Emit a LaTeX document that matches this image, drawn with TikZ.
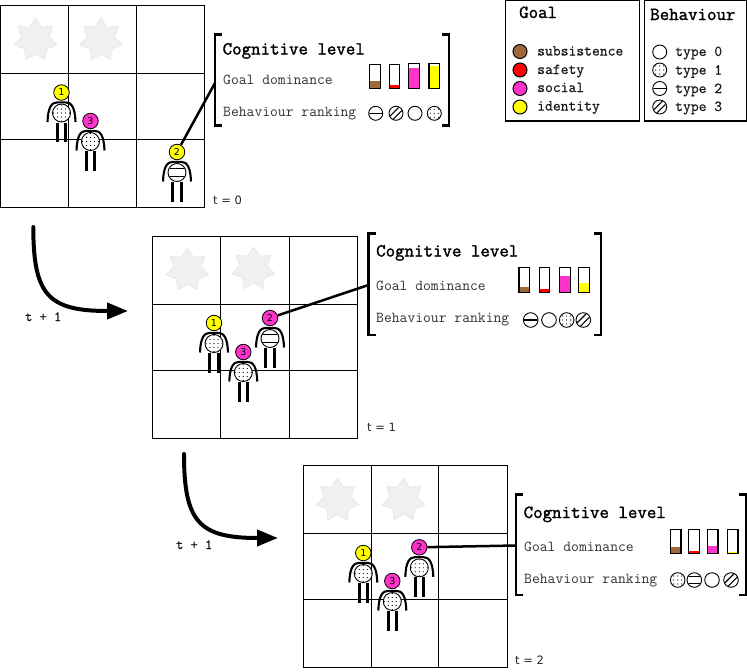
\documentclass[tikz,border=0pt]{standalone}
\usepackage{fontspec}
\setmainfont{DejaVu Sans}
\setmonofont{Latin Modern Mono}
\newfontfamily\monoheavy[FakeBold=1.6]{Latin Modern Mono}
\newfontfamily\monomedium[FakeBold=0.7]{Latin Modern Mono}
\usetikzlibrary{shapes.geometric,arrows.meta}
\definecolor{subsist}{HTML}{A0693A}
\definecolor{safe}{HTML}{FF0000}
\definecolor{socl}{HTML}{FF33CC}
\definecolor{ident}{HTML}{FFFF00}
\definecolor{hazard}{HTML}{F0F0F0}
\definecolor{hazardedge}{HTML}{E6E6E6}
\tikzset{
  gridline/.style={draw=black,line width=1pt},
  hazardstar/.style={star,star points=7,star point ratio=1.55,minimum size=44pt,inner sep=0pt,fill=hazard,draw=hazardedge,line width=0.6pt},
  titletext/.style={anchor=base west,inner sep=0pt,font=\monoheavy\fontsize{18.4}{20}\selectfont},
  rowtext/.style={anchor=base west,inner sep=0pt,text=black!80,font=\ttfamily\fontsize{15.2}{17}\selectfont},
  legendtext/.style={anchor=base west,inner sep=0pt,text=black!90,font=\monomedium\fontsize{15.2}{17}\selectfont},
  steptext/.style={anchor=base west,inner sep=0pt,text=black!90,font=\monomedium\fontsize{14}{16}\selectfont},
  timetext/.style={anchor=base west,inner sep=0pt,text=black!85,font=\fontsize{11.5}{13}\selectfont},
  headnode/.style={circle,draw=black,line width=0.8pt,minimum size=15.5pt,inner sep=0pt,font=\fontsize{9.5}{10}\selectfont},
  bracket/.style={draw=black,line width=2.2pt},
  link/.style={draw=black,line width=2.5pt},
  timearrow/.style={draw=black,line width=4pt,line cap=round,-{Triangle[length=21pt,width=16pt]}},
  legenddot/.style={draw=black,line width=1pt},
  legendbox/.style={draw=black,line width=1.2pt,fill=white}
}
% Behaviour glyph: #1 x, #2 y, #3 radius, #4 type (0 plain, 1 dots, 2 bar, 3 hatch, 4 band)
\newcommand{\glyph}[4]{%
  \begin{scope}[shift={(#1,#2)}]
    \fill[white] (0,0) circle (#3);
    \begin{scope}
      \clip (0,0) circle (#3-0.6);
      \ifnum#4=1
        \foreach \gi in {-2,...,2}\foreach \gj in {-2,...,2}{
          \fill[black] (\gi*4,\gj*4) circle (0.6);}
      \fi
      \ifnum#4=2
        \draw[black,line width=1.1pt] (-#3,0) -- (#3,0);
      \fi
      \ifnum#4=3
        \draw[black,line width=1.1pt] (-#3,#3*0.55) -- (#3*0.55,-#3);
        \draw[black,line width=1.1pt] (-#3*0.55,#3) -- (#3,-#3*0.55);
      \fi
      \ifnum#4=4
        \draw[black,line width=1.1pt] (-#3,-#3*0.42) -- (#3,-#3*0.42);
        \draw[black,line width=1.1pt] (-#3,#3*0.42) -- (#3,#3*0.42);
      \fi
    \end{scope}
    \draw[black,line width=0.9pt] (0,0) circle (#3);
  \end{scope}}
% Agent: #1 name, #2 x, #3 y of the head, #4 colour, #5 number, #6 body type
\newcommand{\agent}[6]{%
  \begin{scope}[shift={(#2,#3)}]
    \draw[black,line width=2.1pt] (-14,29.5) .. controls (-13.5,15) and (-10,9.8) .. (-4,9.8) -- (4,9.8) .. controls (10,9.8) and (13.5,15) .. (14,29.5);
    \glyph{0}{20.5}{9}{#6}
    \draw[black,line width=3pt] (-4.2,30) -- (-4.2,49.5);
    \draw[black,line width=3pt] (4.2,30) -- (4.2,49.5);
    \node[headnode,fill=#4] (#1) at (0,0) {#5};
  \end{scope}}
% Three by three grid: #1 to #4 vertical lines, #5 to #8 horizontal lines
\newcommand{\tilegrid}[8]{%
  \draw[gridline] (#1,#5) rectangle (#4,#8);
  \draw[gridline] (#2,#5) -- (#2,#8) (#3,#5) -- (#3,#8) (#1,#6) -- (#4,#6) (#1,#7) -- (#4,#7);}
% Dominance bar: #1 left, #2 right, #3 top, #4 bottom, #5 level, #6 colour
\newcommand{\gbar}[6]{%
  \fill[#6] (#1,#5) rectangle (#2,#4);
  \draw[black,line width=1.2pt] (#1,#3) rectangle (#2,#4);}
% Square brackets: #1 left, #2 right, #3 top, #4 bottom
\newcommand{\cogbrackets}[4]{%
  \draw[bracket] (#1+7,#3) -- (#1,#3) -- (#1,#4) -- (#1+7,#4);
  \draw[bracket] (#2-7,#3) -- (#2,#3) -- (#2,#4) -- (#2-7,#4);}
\begin{document}
\begin{tikzpicture}[x=1pt,y=-1pt]
\useasboundingbox (0,0) rectangle (747,672);
\fill[white] (0,0) rectangle (747,672);

% first state
\node[hazardstar] (s1a) at (35.5,40) {};
\node[hazardstar] (s1b) at (101,40) {};
\tilegrid{0.5}{68.5}{136.5}{204.5}{5.5}{73.5}{139.5}{207.5}
\agent{a1}{61.5}{92.5}{ident}{1}{1}
\agent{a3}{90.5}{121}{socl}{3}{1}
\agent{a2}{177}{152}{ident}{2}{4}
\node[timetext] (t0) at (213,204) {t = 0};
\cogbrackets{215}{449}{34.5}{125.5}
\coordinate (b1) at (215,83);
\draw[link] (a2) -- (b1);
\node[titletext] (c1) at (222.5,54.5) {Cognitive level};
\node[rowtext] (g1) at (223,84) {Goal dominance};
\node[rowtext] (r1) at (223,116) {Behaviour ranking};
\gbar{369.5}{380.5}{64.5}{88.5}{81}{subsist}
\gbar{389.5}{399.5}{64.5}{88.5}{85}{safe}
\gbar{408.5}{419.5}{63.5}{88.5}{68}{socl}
\gbar{429}{439.5}{63.5}{88.5}{65.5}{ident}
\glyph{375.7}{113.3}{7}{2}
\glyph{396}{113.3}{7}{3}
\glyph{415}{113.3}{7}{0}
\glyph{434.3}{113.3}{7}{1}

% step arrow one
\coordinate (arr1s) at (33.3,227);
\coordinate (arr1e) at (128,311);
\draw[timearrow] (arr1s) .. controls (33.3,295) and (48,311) .. (arr1e);
\node[steptext] (st1) at (25,321) {t + 1};

% second state
\node[hazardstar] (s2a) at (187.5,270) {};
\node[hazardstar] (s2b) at (253.5,269) {};
\tilegrid{152.5}{220.5}{289.5}{357.5}{236.5}{304.5}{370.5}{438.5}
\agent{b1a}{214}{323}{ident}{1}{1}
\agent{b3a}{243.3}{352}{socl}{3}{1}
\agent{b2a}{270}{318}{socl}{2}{4}
\node[timetext] (t1) at (367,431) {t = 1};
\cogbrackets{368.5}{601}{233.5}{335}
\coordinate (b2) at (368.5,285);
\draw[link] (b2a) -- (b2);
\node[titletext] (c2) at (376,256.5) {Cognitive level};
\node[rowtext] (g2) at (376,290.5) {Goal dominance};
\node[rowtext] (r2) at (376,322) {Behaviour ranking};
\gbar{519}{529.5}{267.5}{292.5}{286.5}{subsist}
\gbar{539.5}{549.5}{267.5}{292.5}{289}{safe}
\gbar{559.5}{570.5}{267.5}{292.5}{275.5}{socl}
\gbar{578.5}{589.5}{267.5}{292.5}{282.5}{ident}
\glyph{530.7}{320}{7.3}{2}
\glyph{549}{320}{7.3}{0}
\glyph{566.7}{320}{7.3}{1}
\glyph{583.3}{320}{7.3}{3}

% step arrow two
\coordinate (arr2s) at (184,454);
\coordinate (arr2e) at (278,538);
\draw[timearrow] (arr2s) .. controls (184,522) and (199,538) .. (arr2e);
\node[steptext] (st2) at (176,549) {t + 1};

% third state
\node[hazardstar] (s3a) at (337.5,500) {};
\node[hazardstar] (s3b) at (403.5,500) {};
\tilegrid{303.5}{371.5}{438.5}{507.5}{465.5}{533.5}{599.5}{667.5}
\agent{c1a}{363.3}{553}{ident}{1}{1}
\agent{c3a}{392.3}{581}{socl}{3}{1}
\agent{c2a}{419.3}{547.3}{socl}{2}{1}
\node[timetext] (t2) at (515,664) {t = 2};
\cogbrackets{516}{746}{494.5}{595}
\coordinate (b3) at (516,545.5);
\draw[link] (c2a) -- (b3);
\node[titletext] (c3) at (523.5,518) {Cognitive level};
\node[rowtext] (g3) at (524,551) {Goal dominance};
\node[rowtext] (r3) at (524,583) {Behaviour ranking};
\gbar{670.5}{681}{529.5}{553.5}{546.5}{subsist}
\gbar{688.5}{699.5}{529.5}{553.5}{551}{safe}
\gbar{707.5}{718}{529.5}{553.5}{545.5}{socl}
\gbar{727.5}{738}{529.5}{553.5}{551.5}{ident}
\glyph{677.7}{580}{7.3}{1}
\glyph{694.3}{580}{7.3}{4}
\glyph{712}{580}{7.3}{0}
\glyph{731}{580}{7.3}{3}

% goal legend
\draw[legendbox] (505.5,0.6) rectangle (639.3,121);
\node[titletext] (lg) at (519,18) {Goal};
\filldraw[legenddot,fill=subsist] (520,51.5) circle (7);
\filldraw[legenddot,fill=safe] (520,70) circle (7);
\filldraw[legenddot,fill=socl] (520,88.5) circle (7);
\filldraw[legenddot,fill=ident] (520,107) circle (7);
\node[legendtext] (l1) at (537,55.5) {subsistence};
\node[legendtext] (l2) at (537,74) {safety};
\node[legendtext] (l3) at (537,92) {social};
\node[legendtext] (l4) at (537,110.5) {identity};

% behaviour legend
\draw[legendbox] (644.5,0.6) rectangle (746.4,121);
\node[titletext] (lb) at (650,20) {Behaviour};
\glyph{659.7}{52}{7}{0}
\glyph{659.7}{70}{7}{1}
\glyph{659.7}{88.5}{7}{2}
\glyph{659.7}{107}{7}{3}
\node[legendtext] (m1) at (675,56) {type 0};
\node[legendtext] (m2) at (675,74.5) {type 1};
\node[legendtext] (m3) at (675,93) {type 2};
\node[legendtext] (m4) at (675,111) {type 3};
\end{tikzpicture}
\end{document}
